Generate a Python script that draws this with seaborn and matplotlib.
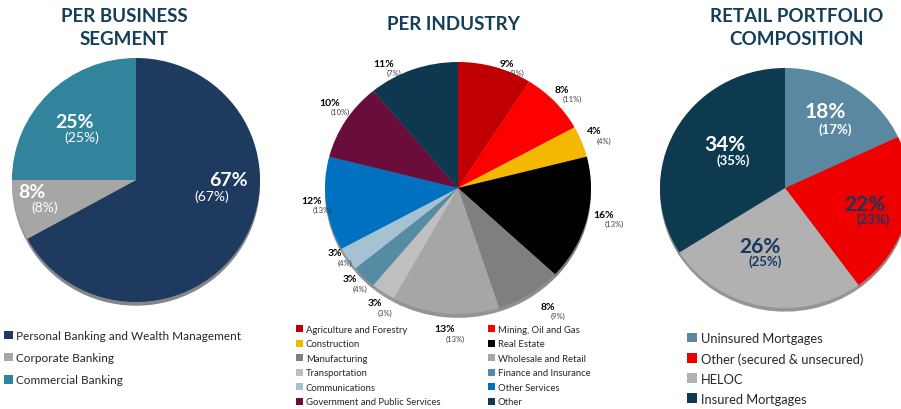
import matplotlib
matplotlib.use("Agg")
import matplotlib.pyplot as plt
import seaborn as sns
from matplotlib.patches import Patch

# ---------------- data ----------------
seg_labels = ["Personal Banking and Wealth Management", "Corporate Banking", "Commercial Banking"]
seg_values = [67, 8, 25]
seg_prev = [67, 8, 25]

ind_labels = ["Agriculture and Forestry", "Mining, Oil and Gas", "Construction", "Real Estate",
              "Manufacturing", "Wholesale and Retail", "Transportation", "Finance and Insurance",
              "Communications", "Other Services", "Government and Public Services", "Other"]
ind_values = [9, 8, 4, 16, 8, 13, 3, 3, 3, 12, 10, 11]
ind_prev = [9, 11, 4, 13, 9, 13, 3, 4, 4, 13, 10, 7]

ret_labels = ["Uninsured Mortgages", "Other (secured & unsecured)", "HELOC", "Insured Mortgages"]
ret_values = [18, 22, 26, 34]
ret_prev = [17, 23, 25, 35]

titles = ["PER BUSINESS\nSEGMENT", "PER INDUSTRY", "RETAIL PORTFOLIO\nCOMPOSITION"]

# ---------------- styles ----------------
seg_colors = ["#1F3A5F", "#A6A6A6", "#31849B"]
ind_colors = ["#C00000", "#FF0000", "#F5B800", "#000000", "#7F7F7F", "#A6A6A6",
              "#BFBFBF", "#558BA3", "#A4C2D2", "#0070C0", "#6A0D3A", "#0E3850"]
ret_colors = ["#5A88A0", "#EE0000", "#B1B1B1", "#0E3A50"]
title_color = "#123E5A"
navy = "#17375E"

sns.set_theme(style="white")
plt.rcParams["font.family"] = ["Lato", "DejaVu Sans"]

W, H = 901, 410
fig = plt.figure(figsize=(W / 100, H / 100), dpi=100)
fig.patch.set_facecolor("white")


def px_axes(cx, cy, rx, ry):
    ax = fig.add_axes([(cx - rx) / W, (H - cy - ry) / H, 2 * rx / W, 2 * ry / H])
    return ax, cx, cy, rx, ry


def draw_pie(axinfo, values, colors):
    ax = axinfo[0]
    ax.pie(values, colors=colors, startangle=90, counterclock=False, radius=1,
           wedgeprops=dict(linewidth=0),
           shadow=dict(ox=0.0, oy=-0.022, shade=0.75))
    ax.set_aspect("auto")
    ax.set_xlim(-1, 1)
    ax.set_ylim(-1, 1)
    ax.axis("off")


def put(axinfo, px, py, s, **kw):
    ax, cx, cy, rx, ry = axinfo
    ax.text((px - cx) / rx, (cy - py) / ry, s, ha="center", va="center", clip_on=False, **kw)


def ftext(px, py, s, **kw):
    fig.text(px / W, 1 - py / H, s, ha="center", va="center", **kw)


# ---------------- pie 1 ----------------
a1 = px_axes(136, 181, 124, 122)
draw_pie(a1, seg_values, seg_colors)
p1_main = [(228, 181), (32, 193), (74, 122)]
p1_sub = [(212, 197), (45, 208), (82, 138)]
for v, pv, m, s in zip(seg_values, seg_prev, p1_main, p1_sub):
    put(a1, *m, f"{v}%", color="white", fontsize=14, fontweight="bold")
    put(a1, *s, f"({pv}%)", color="white", fontsize=10)

# ---------------- pie 2 ----------------
a2 = px_axes(458, 189, 133, 126)
draw_pie(a2, ind_values, ind_colors)
p2_main = [(507, 64), (562, 90), (594, 132), (604, 215), (548, 307), (445, 330),
           (375, 304), (350, 280), (335, 254), (312, 201), (330, 103), (384, 64)]
for v, pv, m in zip(ind_values, ind_prev, p2_main):
    put(a2, m[0], m[1], f"{v}%", color="black", fontsize=7.5, fontweight="bold")
    put(a2, m[0] + 10, m[1] + 9, f"({pv}%)", color="#404040", fontsize=5.5)

# ---------------- pie 3 ----------------
a3 = px_axes(785, 189, 125, 120)
draw_pie(a3, ret_values, ret_colors)
p3_main = [(825, 112), (865, 205), (760, 247), (725, 145)]
p3_sub = [(835, 130), (873, 220), (765, 262), (733, 161)]
p3_col = ["white", navy, navy, "white"]
for v, pv, m, s, c in zip(ret_values, ret_prev, p3_main, p3_sub, p3_col):
    put(a3, *m, f"{v}%", color=c, fontsize=15, fontweight="bold")
    put(a3, *s, f"({pv}%)", color=c, fontsize=9.5, fontweight="bold")

# ---------------- titles ----------------
ftext(124, 28, titles[0], color=title_color, fontsize=13.5, fontweight="bold", linespacing=1.45)
ftext(453, 25, titles[1], color=title_color, fontsize=13.5, fontweight="bold")
ftext(797, 28, titles[2], color=title_color, fontsize=13.5, fontweight="bold", linespacing=1.45)

# ---------------- legends ----------------
def legend(labels, colors, x, y, fs, spacing):
    handles = [Patch(facecolor=c, edgecolor="none") for c in colors]
    fig.legend(handles, labels, loc="upper left", bbox_to_anchor=(x / W, 1 - y / H),
               frameon=False, fontsize=fs, handlelength=0.75, handleheight=0.75,
               handletextpad=0.3, labelspacing=spacing, borderpad=0, borderaxespad=0,
               labelcolor="#262626")


legend(seg_labels, seg_colors, 4, 331, 8.5, 0.95)
legend(ind_labels[0::2], ind_colors[0::2], 296, 326, 6.8, 0.58)
legend(ind_labels[1::2], ind_colors[1::2], 488, 326, 6.8, 0.58)
legend(ret_labels, ret_colors, 687, 333, 9.3, 0.62)

fig.savefig("out.png", dpi=100, facecolor="white")
